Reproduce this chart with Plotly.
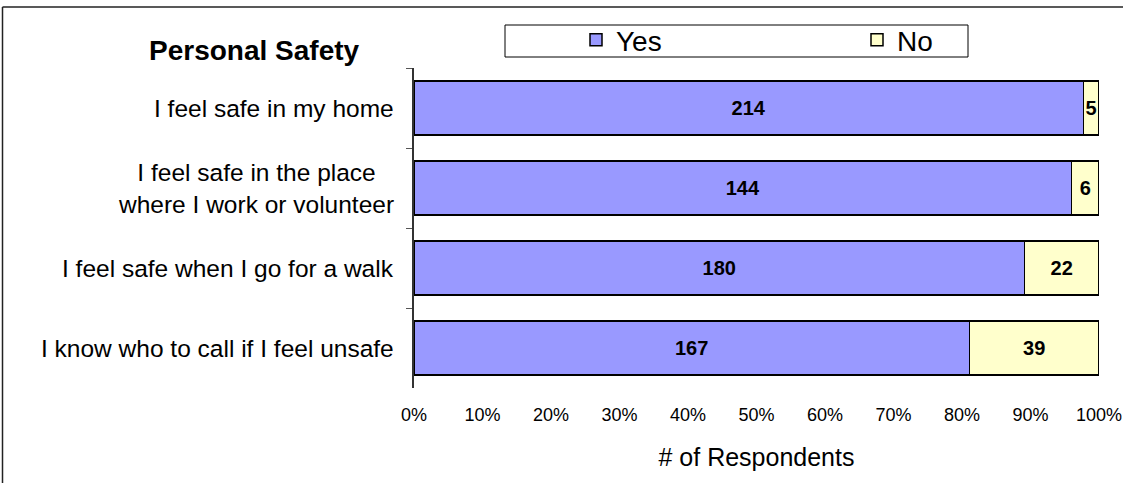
import plotly.graph_objects as go

categories = [
    "I feel safe in my home",
    "I feel safe in the place<br>where I work or volunteer",
    "I feel safe when I go for a walk",
    "I know who to call if I feel unsafe",
]
yes_values = [214, 144, 180, 167]
no_values = [5, 6, 22, 39]
x_tick_values = [0, 10, 20, 30, 40, 50, 60, 70, 80, 90, 100]
x_tick_labels = ["0%", "10%", "20%", "30%", "40%", "50%", "60%", "70%", "80%", "90%", "100%"]

FONT = "Liberation Sans, Arial, sans-serif"
YES_COLOR = "#9999FF"
NO_COLOR = "#FFFFCC"

fig = go.Figure()
fig.add_trace(go.Bar(
    name="Yes", y=categories, x=yes_values, orientation="h",
    marker=dict(color=YES_COLOR, line=dict(color="black", width=1.5)),
    text=yes_values, textposition="inside", insidetextanchor="middle",
    textfont=dict(family=FONT, size=20, color="black", weight="bold"),
    constraintext="none", legendwidth=236,
))
fig.add_trace(go.Bar(
    name="No", y=categories, x=no_values, orientation="h",
    marker=dict(color=NO_COLOR, line=dict(color="black", width=1.5)),
    text=no_values, textposition="inside", insidetextanchor="middle",
    textfont=dict(family=FONT, size=20, color="black", weight="bold"),
    constraintext="none", legendwidth=50,
))

L, R, T, B = 414, 24, 68, 95
W, H = 1123, 483
pw, ph = W - L - R, H - T - B

def px_x(p):
    return (p - L) / pw

def px_y(p):
    return (H - B - p) / ph

annotations = []
for c in categories:
    annotations.append(dict(
        x=0, xref="paper", y=c, yref="y", xshift=-18,
        xanchor="right", yanchor="middle", align="center",
        text=c, showarrow=False,
        font=dict(family=FONT, size=24.5, color="black"),
    ))
annotations.append(dict(
    x=px_x(254), xref="paper", y=px_y(51), yref="paper",
    xanchor="center", yanchor="middle", text="<b>Personal Safety</b>",
    showarrow=False, font=dict(family=FONT, size=28, color="black"),
))

fig.update_layout(
    width=W, height=H,
    margin=dict(l=L, r=R, t=T, b=B, pad=0, autoexpand=False),
    paper_bgcolor="white", plot_bgcolor="white",
    barmode="stack", barnorm="percent", bargap=0.325,
    font=dict(family=FONT, color="black"),
    showlegend=True,
    legend=dict(
        orientation="h", x=px_x(576), y=px_y(15), xanchor="left", yanchor="top",
        bgcolor="rgba(0,0,0,0)", borderwidth=0,
        font=dict(family=FONT, size=28, color="black"),
        traceorder="normal",
    ),
    xaxis=dict(
        range=[0, 100], tickvals=x_tick_values, ticktext=x_tick_labels,
        showgrid=False, zeroline=False, showline=False, ticks="",
        ticklabelstandoff=14,
        tickfont=dict(family=FONT, size=18, color="black"),
        title=dict(text="# of Respondents", font=dict(family=FONT, size=25, color="black"), standoff=24),
        fixedrange=True,
    ),
    yaxis=dict(
        categoryorder="array", categoryarray=categories, autorange="reversed",
        showticklabels=False, ticks="outside", ticklen=6, tickcolor="#555555",
        tickson="boundaries", showline=True, linecolor="#333333", linewidth=1.5,
        showgrid=False, zeroline=False, fixedrange=True,
    ),
    annotations=annotations,
    shapes=[
        # outer chart frame (top and left edges visible in the picture)
        dict(type="line", xref="paper", yref="paper",
             x0=px_x(2.5), x1=px_x(1300), y0=px_y(7), y1=px_y(7),
             line=dict(color="#222222", width=1.5), layer="below"),
        dict(type="line", xref="paper", yref="paper",
             x0=px_x(2.5), x1=px_x(2.5), y0=px_y(7), y1=px_y(600),
             line=dict(color="#222222", width=1.5), layer="below"),
        # legend box
        dict(type="rect", xref="paper", yref="paper",
             x0=px_x(505), x1=px_x(968), y0=px_y(57), y1=px_y(25),
             line=dict(color="black", width=1), fillcolor="rgba(0,0,0,0)", layer="below"),
    ],
)

fig.write_html("out.html")
